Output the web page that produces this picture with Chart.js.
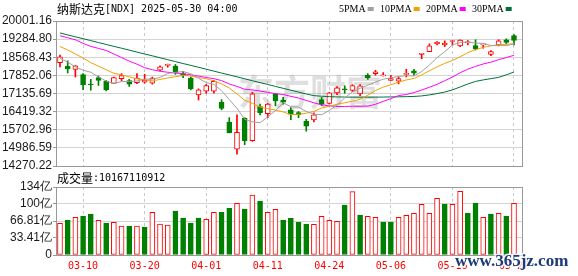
<!DOCTYPE html>
<html>
<head>
<meta charset="utf-8">
<script src="https://cdn.jsdelivr.net/npm/chart.js@4.4.1/dist/chart.umd.min.js"></script>
<style>
  html, body { margin: 0; padding: 0; background: #fff; }
  #wrap { position: relative; width: 578px; height: 276px; }
  #wrap canvas { position: absolute; left: 0; top: 0; }
</style>
</head>
<body>
<div id="wrap">
  <canvas id="kline" width="578" height="276"></canvas>
  <canvas id="vol" width="578" height="276"></canvas>
</div>
<script>
// texts
var titleName = '纳斯达克';
var titleInfo = '[NDX] 2025-05-30 04:00';
var volName = '成交量';
var volInfo = ':10167110912';
var maNames = ['5PMA', '10PMA', '20PMA', '30PMA'];
var markText = '东方财富';
var siteText = 'www.365jz.com';

// x axis labels (shown at these candle positions)
var tickIdx = [3, 11, 19, 27, 35, 43, 51, 59];
var tickLabels = ['03-10', '03-20', '04-01', '04-11', '04-24', '05-06', '05-16', '05-27'];

// price axis
var priceTicks = [14270.22, 14986.59, 15702.96, 16419.32, 17135.69, 17852.06, 18568.43, 19284.80, 20001.16];
var priceTickLabels = ['14270.22', '14986.59', '15702.96', '16419.32', '17135.69', '17852.06', '18568.43', '19284.80', '20001.16'];

// volume axis (亿)
var volTicks = [0, 33.41, 66.81, 100.22, 133.62];
var volTickLabels = ['0', '33.41亿', '66.81亿', '100亿', '134亿'];

// daily candles
var opens = [18350, 18215, 18083, 17882, 17507, 17762, 17626, 17533, 17722, 17642,
             17561, 17586, 17546, 18055, 18243, 18215, 17922, 17746, 17080, 17224,
             17224, 16791, 16008, 14937, 16157, 15274, 16622, 16341, 17120, 16879,
             16490, 16383, 16048, 16088, 16891, 16742, 17160, 17320, 17253, 17120,
             17854, 17922, 17830, 17654, 17626, 17894, 18028, 18685, 18790, 19098,
             19058, 19192, 19018, 19140, 19030, 19058, 18685, 19058, 19259, 19420];
var highs = [18657, 18428, 18240, 17922, 17694, 17826, 17654, 17788, 17922, 17694,
             17922, 17895, 17786, 18228, 18296, 18283, 18015, 17786, 17320, 17493,
             17654, 16891, 16181, 16289, 16180, 17184, 16718, 16745, 17144, 16985,
             16582, 16423, 16115, 16370, 16985, 17184, 17413, 17440, 17480, 17493,
             17922, 18055, 17962, 17854, 17786, 18095, 18095, 18725, 19098, 19192,
             19218, 19232, 19259, 19232, 19259, 19085, 18830, 19259, 19300, 19460];
var lows = [18190, 17947, 17786, 17292, 17264, 17453, 17240, 17520, 17642, 17414,
            17520, 17546, 17506, 18028, 18175, 17894, 17762, 17280, 16879, 17144,
            17144, 16490, 15579, 14736, 15113, 15246, 16289, 16181, 16650, 16718,
            16100, 16181, 15647, 16008, 16650, 16718, 17093, 17144, 17213, 17052,
            17694, 17854, 17826, 17654, 17520, 17786, 17854, 18510, 18790, 19058,
            18990, 19058, 18990, 19058, 18857, 18925, 18630, 19018, 19098, 19058];
var closes = [18588, 18107, 18228, 17481, 17470, 17654, 17292, 17762, 17842, 17507,
              17746, 17666, 17746, 18187, 18296, 17962, 17826, 17320, 17280, 17453,
              17613, 16550, 15579, 15600, 15274, 17120, 16382, 16718, 16840, 16790,
              16317, 16300, 15847, 16289, 16718, 17160, 17360, 17280, 17453, 17440,
              17762, 17988, 17854, 17722, 17730, 17915, 17935, 18725, 19018, 19165,
              19125, 19225, 19245, 19150, 18897, 19085, 18790, 19218, 19150, 19232];

// volume, 亿
var volumes = [62.2, 68.8, 74.0, 76.6, 80.6, 68.1, 62.9, 64.2, 57.0, 57.0,
               57.0, 55.0, 83.8, 60.9, 59.0, 86.5, 72.7, 62.9, 72.7, 70.1,
               83.8, 83.8, 91.7, 101.5, 90.4, 117.9, 106.1, 83.8, 89.7, 68.8,
               72.1, 64.2, 60.9, 60.3, 76.0, 68.1, 66.2, 98.3, 124.5, 78.6,
               76.0, 74.0, 64.8, 64.8, 74.0, 77.9, 81.9, 99.6, 81.9, 111.4,
               100.2, 99.6, 125.1, 81.9, 102.2, 74.0, 80.6, 81.9, 76.6, 101.7];

// moving averages
var ma5 = [18524, 18376, 18187, 18055, 17977, 17790, 17627, 17534, 17606, 17611,
           17630, 17705, 17701, 17770, 17928, 17971, 18003, 17918, 17737, 17568,
           17498, 17243, 16895, 16550, 16114, 16016, 15982, 16210, 16461, 16771,
           16611, 16598, 16423, 16319, 16298, 16466, 16675, 16961, 17194, 17341,
           17462, 17587, 17702, 17756, 17810, 17842, 17828, 18003, 18262, 18550,
           18791, 19053, 19154, 19181, 19127, 19119, 19031, 19028, 19028, 19095];
var ma10 = [18990, 18857, 18697, 18536, 18356, 18215, 18075, 17934, 17874, 17794,
            17720, 17680, 17635, 17690, 17750, 17798, 17854, 17822, 17764, 17720,
            17634, 17518, 17350, 17120, 16868, 16746, 16603, 16533, 16481, 16408,
            16303, 16310, 16354, 16429, 16561, 16633, 16712, 16770, 16831, 16903,
            17066, 17250, 17390, 17483, 17584, 17672, 17731, 17873, 18032, 18188,
            18327, 18438, 18590, 18750, 18870, 18958, 19020, 19065, 19080, 19105];
var ma20 = [19419, 19339, 19259, 19118, 18998, 18918, 18837, 18697, 18556, 18416,
            18296, 18155, 18075, 18015, 17975, 17946, 17914, 17874, 17822, 17771,
            17722, 17645, 17512, 17416, 17306, 17279, 17233, 17181, 17130, 17095,
            17024, 16957, 16862, 16767, 16688, 16648, 16624, 16622, 16631, 16631,
            16639, 16710, 16824, 16933, 17055, 17095, 17172, 17272, 17383, 17500,
            17640, 17786, 17955, 18098, 18207, 18303, 18375, 18472, 18557, 18646];
var ma30 = [19528, 19451, 19375, 19303, 19226, 19150, 19074, 18998, 18926, 18849,
            18773, 18697, 18625, 18548, 18472, 18396, 18320, 18247, 18172, 18096,
            18020, 17943, 17871, 17794, 17718, 17641, 17565, 17493, 17417, 17340,
            17264, 17192, 17116, 17051, 17028, 17011, 17000, 16995, 16991, 16991,
            16991, 16991, 16995, 17000, 17005, 17011, 17020, 17040, 17080, 17132,
            17192, 17280, 17393, 17513, 17613, 17673, 17722, 17774, 17874, 17986];

var RED = '#ff0000', GREEN = '#008000';
var maColors = ['#a0a0a0', '#f0a000', '#ff00ff', '#00703a'];
var CJK = '"Noto Sans CJK SC"';
var MONO = '"DejaVu Sans Mono"';

var candleUp = closes.map(function (c, i) { return c >= opens[i]; });
var volUp = closes.map(function (c, i) { return i === 0 ? candleUp[0] : c >= closes[i - 1]; });

function xy(arr) { return arr.map(function (v, i) { return { x: i, y: v }; }); }

function xAxis(showLabels) {
    return {
        type: 'linear', min: -0.39, max: 60.04, offset: false,
        afterBuildTicks: function (s) { s.ticks = tickIdx.map(function (v) { return { value: v }; }); },
        afterFit: function (s) { s.height = showLabels ? 21 : 0; },
        grid: { color: '#c8c8c8', lineWidth: 1, drawTicks: false, offset: false, borderDash: [3, 3] },
        border: { display: false, dash: [3, 3] },
        ticks: {
            display: showLabels, autoSkip: false, maxRotation: 0, padding: 5, color: RED,
            font: { family: 'DejaVu Sans Mono', size: 10 },
            callback: function (v, i) { return tickLabels[i]; }
        }
    };
}

function yAxis(ticks, labels) {
    return {
        type: 'linear', position: 'left', min: ticks[0], max: ticks[ticks.length - 1],
        afterBuildTicks: function (s) { s.ticks = ticks.map(function (v) { return { value: v }; }); },
        afterFit: function (s) { s.width = 57; },
        grid: { color: '#d4d4d4', tickColor: '#999', tickLength: 4, drawTicks: true },
        border: { display: false },
        ticks: {
            autoSkip: false, padding: 1, color: '#1a1a1a',
            font: { family: 'Liberation Sans', size: 12 },
            callback: function (v, i) { return labels[i]; }
        }
    };
}

var framePlugin = {
    id: 'frame',
    afterDraw: function (chart) {
        var a = chart.chartArea, c = chart.ctx;
        c.save();
        c.strokeStyle = '#999';
        c.lineWidth = 1;
        c.strokeRect(a.left - 0.5, a.top + 0.5, a.right - a.left + 1, a.bottom - a.top);
        c.restore();
    }
};

var markPlugin = {
    id: 'mark',
    beforeDatasetsDraw: function (chart) {
        var c = chart.ctx;
        c.save();
        c.fillStyle = 'rgba(170,170,170,0.38)';
        c.font = 'bold 36px ' + CJK;
        c.textBaseline = 'middle';
        c.fillText(markText, 238, 92);
        c.restore();
    }
};

var headPlugin = {
    id: 'head',
    afterDraw: function (chart) {
        var c = chart.ctx;
        c.save();
        c.fillStyle = '#000';
        c.textBaseline = 'middle';
        c.font = '12px ' + CJK;
        c.fillText(titleName, 57, 9);
        var w = c.measureText(titleName).width;
        c.font = '10px ' + MONO;
        c.fillText(titleInfo, 57 + w, 9);

        var xs = [339, 380, 426, 472];
        c.font = '10px "Liberation Serif"';
        maNames.forEach(function (name, i) {
            c.fillStyle = '#000';
            c.fillText(name, xs[i], 9);
            var tw = c.measureText(name).width;
            c.fillStyle = maColors[i];
            c.fillRect(xs[i] + tw + 2, 7, 6, 4);
        });
        c.restore();
    }
};

var volHeadPlugin = {
    id: 'volhead',
    afterDraw: function (chart) {
        var c = chart.ctx;
        c.save();
        c.fillStyle = '#000';
        c.textBaseline = 'middle';
        c.font = '12px ' + CJK;
        c.fillText(volName, 57, 178);
        var w = c.measureText(volName).width;
        c.font = '10px ' + MONO;
        c.fillText(volInfo, 57 + w, 178);

        c.font = 'bold 17px "Liberation Serif"';
        c.textBaseline = 'alphabetic';
        c.lineWidth = 3;
        c.strokeStyle = 'rgba(255,255,255,0.85)';
        c.strokeText(siteText, 455, 266);
        c.fillStyle = '#1d3b78';
        c.fillText(siteText, 455, 266);
        c.restore();
    }
};

var common = {
    responsive: false,
    devicePixelRatio: 1,
    animation: false,
    events: [],
    plugins: { legend: { display: false }, tooltip: { enabled: false }, title: { display: false } }
};

function line(data, color) {
    return { type: 'line', data: xy(data), borderColor: color, borderWidth: 1, pointRadius: 0, tension: 0, order: 0 };
}

new Chart(document.getElementById('kline'), {
    type: 'line',
    data: {
        datasets: [
            line(ma5, maColors[0]),
            line(ma10, maColors[1]),
            line(ma20, maColors[2]),
            line(ma30, maColors[3]),
            {
                type: 'bar',
                data: opens.map(function (o, i) { return { x: i, y: [o, closes[i]] }; }),
                backgroundColor: candleUp.map(function (u) { return u ? '#fff' : GREEN; }),
                borderColor: candleUp.map(function (u) { return u ? RED : GREEN; }),
                borderWidth: 1, borderSkipped: false, barThickness: 5, minBarLength: 1,
                grouped: false, order: 1
            },
            {
                type: 'bar',
                data: lows.map(function (l, i) { return { x: i, y: [l, highs[i]] }; }),
                backgroundColor: candleUp.map(function (u) { return u ? RED : GREEN; }),
                borderWidth: 0, barThickness: 1, grouped: false, order: 2
            }
        ]
    },
    options: Object.assign({}, common, {
        layout: { padding: { left: 0, top: 21, right: 56, bottom: 110 } },
        scales: { x: xAxis(false), y: yAxis(priceTicks, priceTickLabels) }
    }),
    plugins: [markPlugin, framePlugin, headPlugin]
});

new Chart(document.getElementById('vol'), {
    type: 'bar',
    data: {
        datasets: [{
            data: xy(volumes),
            backgroundColor: volUp.map(function (u) { return u ? '#fff' : GREEN; }),
            borderColor: volUp.map(function (u) { return u ? RED : GREEN; }),
            borderWidth: 1, borderSkipped: false, barThickness: 5, grouped: false
        }]
    },
    options: Object.assign({}, common, {
        layout: { padding: { left: 0, top: 187, right: 56, bottom: 0 } },
        scales: { x: xAxis(true), y: yAxis(volTicks, volTickLabels) }
    }),
    plugins: [framePlugin, volHeadPlugin]
});
</script>
</body>
</html>
